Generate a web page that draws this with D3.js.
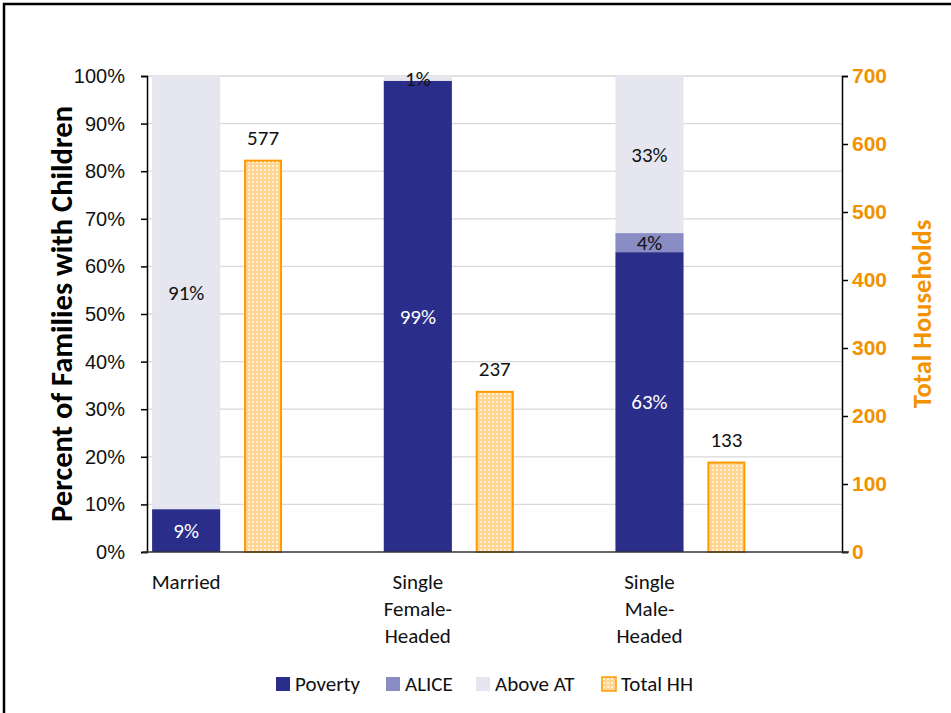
<!DOCTYPE html>
<html>
<head>
<meta charset="utf-8">
<script src="https://cdn.jsdelivr.net/npm/d3@7"></script>
<style>
  body { margin: 0; background: #fff; }
  svg { display: block; font-family: Carlito, Calibri, "Open Sans", sans-serif; }
</style>
</head>
<body>
<div id="chart"></div>
<script>
// chart data
const categories = ['Married', 'Single Female-Headed', 'Single Male-Headed'];
const categoryLines = [['Married'], ['Single', 'Female-', 'Headed'], ['Single', 'Male-', 'Headed']];
const poverty = [9, 99, 63];
const alice = [0, 0, 4];
const aboveAT = [91, 1, 33];
const totalHH = [577, 237, 133];
const pctTicks = [0, 10, 20, 30, 40, 50, 60, 70, 80, 90, 100];
const hhTicks = [0, 100, 200, 300, 400, 500, 600, 700];

const W = 951, H = 713;
const margin = { t: 76, r: 109, b: 161, l: 147 };
const width = W - margin.l - margin.r;
const height = H - margin.t - margin.b;

const colors = { poverty: '#2a2d89', alice: '#8a8cc4', above: '#e6e6f0', hh: '#ff9900' };
const orangeText = '#f39200';
const fs = 21;

const svg = d3.select('#chart').append('svg')
  .attr('width', W).attr('height', H);

// dotted fill for the total households bars
const pat = svg.append('defs').append('pattern')
  .attr('id', 'dots').attr('patternUnits', 'userSpaceOnUse')
  .attr('width', 4).attr('height', 4);
pat.append('rect').attr('width', 4).attr('height', 4).attr('fill', '#ffd58f');
pat.append('rect').attr('x', 1).attr('y', 1).attr('width', 2).attr('height', 2).attr('fill', '#fff3df');

// outer frame (only top and left show)
svg.append('path')
  .attr('d', `M4,${H} V4 H${W}`)
  .attr('fill', 'none').attr('stroke', '#000').attr('stroke-width', 2.5);

const g = svg.append('g').attr('transform', `translate(${margin.l},${margin.t})`);

const x = d3.scaleBand().domain(categories).range([0, width]);
const y = d3.scaleLinear().domain([0, 100]).range([height, 0]);
const y2 = d3.scaleLinear().domain([0, 700]).range([height, 0]);

// gridlines
g.append('g').selectAll('line').data(pctTicks.slice(1)).join('line')
  .attr('x1', 0).attr('x2', width)
  .attr('y1', d => y(d)).attr('y2', d => y(d))
  .attr('stroke', '#d9d9d9').attr('stroke-width', 1.3);

const bw = x.bandwidth();
const stackX = d => x(d) + bw * 0.022;
const stackW = bw * 0.294;
const hhX = d => x(d) + bw * 0.419;
const hhW = bw * 0.164;

const stack = categories.map((c, i) => {
  const segs = [
    { key: 'poverty', v: poverty[i] },
    { key: 'alice', v: alice[i] },
    { key: 'above', v: aboveAT[i] }
  ];
  let acc = 0;
  segs.forEach(s => { s.y0 = acc; acc += s.v; s.y1 = acc; s.cat = c; });
  return segs;
}).flat();

g.append('g').selectAll('rect').data(stack.filter(s => s.v > 0)).join('rect')
  .attr('x', d => stackX(d.cat))
  .attr('width', stackW)
  .attr('y', d => y(d.y1))
  .attr('height', d => y(d.y0) - y(d.y1))
  .attr('fill', d => colors[d.key]);

g.append('g').selectAll('text').data(stack.filter(s => s.v > 0)).join('text')
  .attr('x', d => stackX(d.cat) + stackW / 2)
  .attr('y', d => (y(d.y0) + y(d.y1)) / 2)
  .attr('dy', '0.35em')
  .attr('text-anchor', 'middle')
  .attr('font-size', fs)
  .attr('fill', d => d.key === 'poverty' ? '#fff' : '#111')
  .text(d => d.v + '%');

// total households bars
g.append('g').selectAll('rect').data(categories).join('rect')
  .attr('x', d => hhX(d) + 1)
  .attr('width', hhW - 2)
  .attr('y', (d, i) => y2(totalHH[i]) + 1)
  .attr('height', (d, i) => height - y2(totalHH[i]) - 1)
  .attr('fill', 'url(#dots)')
  .attr('stroke', colors.hh).attr('stroke-width', 2);

g.append('g').selectAll('text').data(categories).join('text')
  .attr('x', d => hhX(d) + hhW / 2)
  .attr('y', (d, i) => y2(totalHH[i]) - 15)
  .attr('text-anchor', 'middle')
  .attr('font-size', fs).attr('fill', '#111')
  .text((d, i) => totalHH[i]);

// left axis
const yAxis = g.append('g')
  .call(d3.axisLeft(y).tickValues(pctTicks).tickFormat(d => d + '%').tickSize(6).tickPadding(16));
yAxis.select('.domain').attr('stroke', '#000').attr('stroke-width', 1.5);
yAxis.selectAll('.tick line').attr('stroke', '#000').attr('stroke-width', 1.5);
yAxis.selectAll('text').attr('font-size', 20).attr('fill', '#111').attr('font-family', null);

// right axis
const y2Axis = g.append('g').attr('transform', `translate(${width},0)`)
  .call(d3.axisRight(y2).tickValues(hhTicks).tickSize(6).tickPadding(4));
y2Axis.select('.domain').attr('stroke', '#000').attr('stroke-width', 1.5);
y2Axis.selectAll('.tick line').attr('stroke', '#000').attr('stroke-width', 1.5);
y2Axis.selectAll('text').attr('font-size', fs).attr('font-weight', 'bold')
  .attr('fill', orangeText).attr('font-family', null);

// baseline
g.append('line').attr('x1', -4).attr('x2', width + 7)
  .attr('y1', height).attr('y2', height)
  .attr('stroke', '#333').attr('stroke-width', 1.5);

// category labels
const cl = g.append('g').selectAll('text').data(categories).join('text')
  .attr('text-anchor', 'middle')
  .attr('font-size', fs).attr('fill', '#111')
  .attr('transform', d => `translate(${stackX(d) + stackW / 2},${height + 37})`);
cl.selectAll('tspan').data((d, i) => categoryLines[i]).join('tspan')
  .attr('x', 0).attr('dy', (d, j) => j === 0 ? 0 : 27)
  .text(d => d);

// axis titles
svg.append('text')
  .attr('transform', `translate(72,${margin.t + height / 2}) rotate(-90)`)
  .attr('text-anchor', 'middle').attr('font-size', 30.5).attr('font-weight', 'bold')
  .attr('fill', '#000')
  .text('Percent of Families with Children');

svg.append('text')
  .attr('transform', `translate(931,${margin.t + height / 2}) rotate(-90)`)
  .attr('text-anchor', 'middle').attr('font-size', 26.5).attr('font-weight', 'bold')
  .attr('fill', orangeText)
  .text('Total Households');

// legend
const legendItems = [
  { name: 'Poverty', fill: colors.poverty, x: 276 },
  { name: 'ALICE', fill: colors.alice, x: 386 },
  { name: 'Above AT', fill: colors.above, x: 476 },
  { name: 'Total HH', fill: 'url(#dots)', x: 602, stroke: colors.hh }
];
const lg = svg.append('g').selectAll('g').data(legendItems).join('g')
  .attr('transform', d => `translate(${d.x},677)`);
lg.append('rect')
  .attr('width', 14).attr('height', 14)
  .attr('fill', d => d.fill)
  .attr('stroke', d => d.stroke || 'none').attr('stroke-width', 1.5);
lg.append('text')
  .attr('x', 19).attr('y', 7).attr('dy', '0.35em')
  .attr('font-size', fs).attr('fill', '#111')
  .text(d => d.name);
</script>
</body>
</html>
